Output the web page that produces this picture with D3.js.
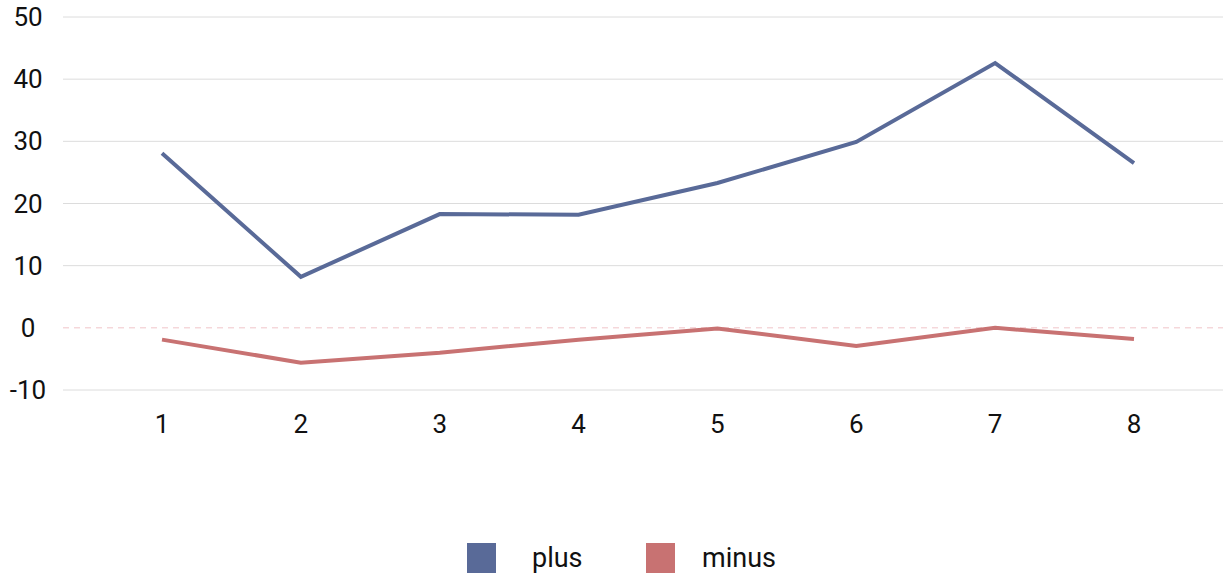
<!DOCTYPE html>
<html><head><meta charset="utf-8">
<script src="https://cdn.jsdelivr.net/npm/d3@7"></script>
<style>body{margin:0;background:#fff}svg{display:block}</style>
</head><body>
<svg id="c" width="1223" height="579"></svg>
<script>
const categories = [1,2,3,4,5,6,7,8];
const plusValues = [28.1, 8.2, 18.3, 18.2, 23.3, 29.9, 42.6, 26.5];
const minusValues = [-1.9, -5.6, -4.0, -1.9, -0.1, -2.9, 0.0, -1.8];
const yTicks = [-10, 0, 10, 20, 30, 40, 50];
const seriesNames = ["plus", "minus"];
const colors = ["#596a98", "#c87272"];

const svg = d3.select("#c");
const font = "Roboto, 'DejaVu Sans', sans-serif";
const x = d3.scalePoint().domain(categories).range([162, 1134]);
const y = d3.scaleLinear().domain([-10, 50]).range([390, 17]);
const gridX0 = 63, gridX1 = 1223;

// grid
svg.append("g").selectAll("line").data(yTicks.filter(t => t !== 0)).join("line")
  .attr("x1", gridX0).attr("x2", gridX1)
  .attr("y1", d => y(d)).attr("y2", d => y(d))
  .attr("stroke", "#dcdcdc").attr("stroke-width", 1);
svg.append("line").attr("x1", gridX0).attr("x2", gridX1)
  .attr("y1", y(0)).attr("y2", y(0))
  .attr("stroke", "#f0c4c8").attr("stroke-width", 1).attr("stroke-dasharray", "6,5");

// y labels
svg.append("g").selectAll("text").data(yTicks).join("text")
  .attr("x", 28).attr("y", d => y(d)).attr("dy", "0.35em")
  .attr("text-anchor", "middle").attr("font-family", font).attr("font-size", 26)
  .attr("fill", "#111").text(d => d);

// x labels
svg.append("g").selectAll("text").data(categories).join("text")
  .attr("x", d => x(d)).attr("y", 424).attr("dy", "0.35em")
  .attr("text-anchor", "middle").attr("font-family", font).attr("font-size", 26)
  .attr("fill", "#111").text(d => d);

const line = d3.line().x((d, i) => x(categories[i])).y(d => y(d));
[plusValues, minusValues].forEach((vals, k) => {
  svg.append("path").datum(vals).attr("d", line)
    .attr("fill", "none").attr("stroke", colors[k]).attr("stroke-width", 4)
    .attr("stroke-linejoin", "miter");
});

// legend
const legX = [467, 646];
const lg = svg.append("g").selectAll("g").data(seriesNames).join("g")
  .attr("transform", (d, i) => `translate(${legX[i]},543)`);
lg.append("rect").attr("width", 29).attr("height", 30)
  .attr("fill", (d, i) => colors[i]);
lg.append("text").attr("x", (d, i) => i === 0 ? 65 : 56).attr("y", 15).attr("dy", "0.35em")
  .attr("font-family", font).attr("font-size", 27).attr("fill", "#111").text(d => d);
</script>
</body></html>
